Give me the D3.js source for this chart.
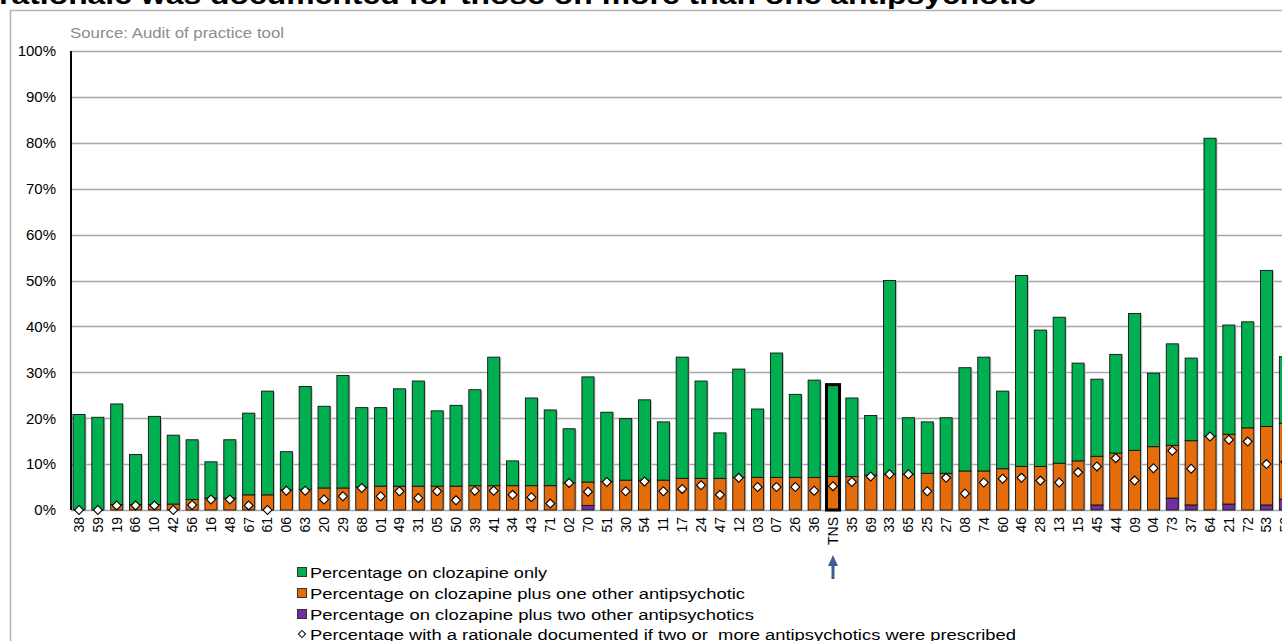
<!DOCTYPE html>
<html><head><meta charset="utf-8">
<script src="https://cdn.jsdelivr.net/npm/d3@7/dist/d3.min.js"></script>
<style>html,body{margin:0;padding:0;overflow:hidden;background:#fff}</style>
</head><body><svg id="c" width="1282" height="641"></svg>
<script>
const categories = ["38","59","19","66","10","42","56","16","48","67","61","06","63","20","29","68","01","49","31","05","50","39","41","34","43","71","02","70","51","30","54","11","17","24","47","12","03","07","26","36","TNS","35","69","33","65","25","27","08","74","60","46","28","13","15","45","44","09","04","73","37","64","21","72","53","52"];
const clozapineOnly = [20.8,20.2,21.9,10.9,19.2,15.0,13.0,7.9,12.7,17.8,22.6,8.3,22.4,17.8,24.5,17.3,17.1,21.2,22.9,16.4,17.6,20.9,28.0,5.4,19.1,16.5,11.8,22.9,15.1,13.4,17.5,12.7,26.4,21.2,9.9,23.6,14.9,27.1,18.1,21.2,19.8,17.1,13.0,42.2,12.3,11.2,12.1,22.5,24.8,16.9,41.6,29.7,31.8,21.3,16.8,21.5,29.8,16.0,22.1,18.0,64.9,23.8,23.1,34.0,14.5];
const plusOne = [0,0,1.2,1.2,1.2,1.3,2.3,2.6,2.6,3.3,3.3,4.4,4.5,4.8,4.8,5.0,5.2,5.2,5.2,5.2,5.2,5.3,5.3,5.3,5.3,5.3,5.9,5.1,6.2,6.5,6.5,6.5,6.9,6.9,6.9,7.1,7.1,7.1,7.1,7.1,7.3,7.3,7.6,7.8,7.8,8.0,8.0,8.5,8.5,9.0,9.5,9.5,10.2,10.7,10.6,12.4,13.0,13.8,11.5,14.0,16.1,15.2,17.9,17.1,16.5];
const plusTwo = [0,0,0,0,0,0,0,0,0,0,0,0,0,0,0,0,0,0,0,0,0,0,0,0,0,0,0,1.0,0,0,0,0,0,0,0,0,0,0,0,0,0,0,0,0,0,0,0,0,0,0,0,0,0,0,1.1,0,0,0,2.6,1.1,0,1.3,0,1.1,2.4];
const rationale = [0,0,1.0,1.0,1.0,0,1.1,2.3,2.3,1.0,0,4.2,4.2,2.3,3.0,4.8,3.0,4.1,2.6,4.1,2.1,4.2,4.2,3.3,2.8,1.4,5.9,4.0,6.1,4.1,6.2,4.1,4.6,5.4,3.3,7.0,5.0,5.0,5.0,4.2,5.2,6.1,7.3,7.8,7.8,4.1,7.0,3.6,6.0,6.8,7.0,6.4,6.0,8.2,9.5,11.3,6.4,9.1,12.9,9.0,16.0,15.3,14.9,10.0,10.5];
const yTicks = [0,10,20,30,40,50,60,70,80,90,100];
const highlight = "TNS";
const legendLabels = ["Percentage on clozapine only","Percentage on clozapine plus one other antipsychotic","Percentage on clozapine plus two other antipsychotics","Percentage with a rationale documented if two or  more antipsychotics were prescribed"];
const titleText = "rationale was documented for those on more than one antipsychotic";
const sourceText = "Source: Audit of practice tool";

const colors = {only:"#00b050", one:"#e46c0a", two:"#7030a0"};
const FONT = "'Liberation Sans', Arial, sans-serif";
const svg = d3.select("#c");

// frame
svg.append("path").attr("d","M10.5,641 V10.5 H1282").attr("fill","none").attr("stroke","#b4b4b4").attr("stroke-width",1.5);
// title
svg.append("text").attr("x",-1).attr("y",4).attr("font-family",FONT).attr("font-weight","bold")
  .attr("font-size",26).attr("textLength",1037).attr("lengthAdjust","spacingAndGlyphs").text(titleText);
svg.append("text").attr("x",70).attr("y",38).attr("font-family",FONT).attr("font-size",14).attr("fill","#8c8c8c")
  .attr("textLength",214).attr("lengthAdjust","spacingAndGlyphs").text(sourceText);

const x0 = 71, step = 18.85, pIn = 0.36, pOut = 0.105;
const n = categories.length;
const x = d3.scaleBand().domain(categories).range([x0, x0 + step*(n - pIn + 2*pOut)]).paddingInner(pIn).paddingOuter(pOut);
const y = d3.scaleLinear().domain([0,100]).range([510,51]);

// grid
svg.append("g").selectAll("line").data(yTicks).join("line")
  .attr("x1",x0).attr("x2",1282).attr("y1",d=>Math.round(y(d))+0.5).attr("y2",d=>Math.round(y(d))+0.5)
  .attr("stroke","#a6a6a6").attr("stroke-width",1.3);

// y axis
const yAxis = d3.axisLeft(y).tickValues(yTicks).tickFormat(d=>d+"%").tickSize(0).tickPadding(15);
const ya = svg.append("g").attr("transform",`translate(${x0},0)`).call(yAxis);
ya.select(".domain").remove();
ya.selectAll("text").attr("font-family",FONT).attr("font-size",15).attr("fill","#000");
svg.append("line").attr("x1",x0).attr("x2",x0).attr("y1",y(100)).attr("y2",y(0)).attr("stroke","#000").attr("stroke-width",2);

// stacked data
const rows = categories.map((c,i)=>({cat:c, two:plusTwo[i], one:plusOne[i], only:clozapineOnly[i], rat:rationale[i]}));
const series = d3.stack().keys(["two","one","only"])(rows);
const bw = x.bandwidth();

// shadows
svg.append("g").selectAll("rect").data(rows).join("rect")
  .attr("x",d=>x(d.cat)+1.5).attr("width",bw)
  .attr("y",d=>y(d.two+d.one+d.only)+1).attr("height",d=>y(0)-y(d.two+d.one+d.only)-1)
  .attr("fill","#c8c8c8");

const gb = svg.append("g");
series.forEach(s=>{
  gb.append("g").selectAll("rect").data(s.filter(d=>d[1]-d[0]>0)).join("rect")
    .attr("x",d=>x(d.data.cat)).attr("width",bw)
    .attr("y",d=>y(d[1])).attr("height",d=>y(d[0])-y(d[1]))
    .attr("fill",colors[s.key]).attr("stroke","#111").attr("stroke-width",0.9);
});

// highlight
const h = rows.find(r=>r.cat===highlight);
const hTot = h.two+h.one+h.only;
svg.append("rect").attr("x",x(highlight)-0.5).attr("width",bw+1).attr("y",y(hTot)-1).attr("height",y(0)-y(hTot)+1)
  .attr("fill","none").attr("stroke","#000").attr("stroke-width",3);

// diamonds
const diamond = d3.symbol(d3.symbolSquare, 40);
svg.append("g").selectAll("path").data(rows).join("path")
  .attr("d",diamond).attr("transform",d=>`translate(${x(d.cat)+bw/2},${y(d.rat)}) rotate(45)`)
  .attr("fill","#fff").attr("stroke","#000").attr("stroke-width",1.1);

// x labels
const xAxis = d3.axisBottom(x).tickSize(0).tickPadding(0);
const xa = svg.append("g").attr("transform",`translate(0,${y(0)})`).call(xAxis);
xa.select(".domain").remove();
xa.selectAll("text").attr("font-family",FONT).attr("font-size",14).attr("fill","#000")
  .attr("text-anchor","end").attr("dy","0.35em").attr("transform","translate(0,7) rotate(-90)").attr("x",0).attr("y",0);

// arrow under highlight
const ax = x(highlight)+bw/2;
svg.append("line").attr("x1",ax).attr("x2",ax).attr("y1",579).attr("y2",563).attr("stroke","#3b5f91").attr("stroke-width",3);
svg.append("path").attr("d",`M${ax-5},566 L${ax},555 L${ax+5},566 Z`).attr("fill","#3b5f91");

// legend
const lgX = 297, lgY = [572,593,614,634];
const widths = [237,435,444,706];
const lg = svg.append("g");
[colors.only, colors.one, colors.two].forEach((c,i)=>{
  lg.append("rect").attr("x",lgX+0.5).attr("y",lgY[i]-4.5).attr("width",9).attr("height",9).attr("fill",c).attr("stroke","#333").attr("stroke-width",1);
});
lg.append("path").attr("d",d3.symbol(d3.symbolSquare,26)).attr("transform",`translate(${lgX+5},${lgY[3]}) rotate(45)`)
  .attr("fill","#fff").attr("stroke","#000").attr("stroke-width",1);
legendLabels.forEach((t,i)=>{
  lg.append("text").attr("x",310).attr("y",lgY[i]).attr("dy","0.36em").attr("font-family",FONT).attr("font-size",15.5)
    .attr("textLength",widths[i]).attr("lengthAdjust","spacingAndGlyphs").attr("xml:space","preserve").style("white-space","pre").text(t);
});
</script></body></html>
